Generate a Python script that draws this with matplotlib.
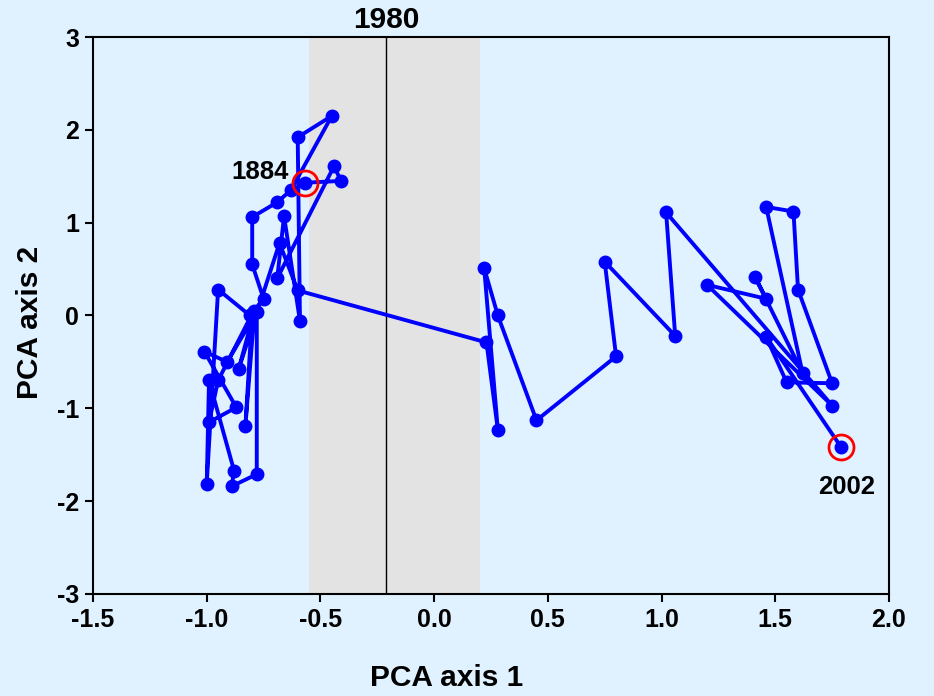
"""
PCA trajectory of the community, 1884 to 2002, with the 1980 shift marked.
"""

import matplotlib.pyplot as plt

plt.rcParams['font.family'] = ['Liberation Sans', 'DejaVu Sans']
plt.rcParams['font.weight'] = 'bold'
plt.rcParams['axes.unicode_minus'] = False

# sample scores on the first two PCA axes, in time order
pc1 = [-0.57, -0.41, -0.44, -0.69, -0.66, -0.59, -0.60, -0.45, -0.63, -0.69,
       -0.80, -0.80, -0.75, -0.81, -0.95, -1.00, -0.99, -0.88, -0.89, -0.78,
       -0.78, -0.91, -1.01, -0.87, -0.99, -0.95, -0.80, -0.83, -0.79, -0.86,
       -0.68, -0.60,
       0.23, 0.28, 0.22, 0.28, 0.45, 0.80, 0.75, 1.06, 1.02,
       1.75, 1.20, 1.46, 1.41, 1.62, 1.46, 1.58, 1.60, 1.75, 1.55, 1.46, 1.79]
pc2 = [1.43, 1.45, 1.61, 0.40, 1.07, -0.06, 1.92, 2.15, 1.35, 1.22,
       1.06, 0.55, 0.18, 0.00, 0.28, -1.81, -0.70, -1.67, -1.84, -1.71,
       0.04, -0.50, -0.39, -0.99, -1.15, -0.70, 0.02, -1.19, 0.05, -0.58,
       0.78, 0.27,
       -0.29, -1.23, 0.51, 0.00, -1.13, -0.44, 0.58, -0.22, 1.11,
       -0.97, 0.33, 0.18, 0.42, -0.62, 1.17, 1.12, 0.28, -0.73, -0.72, -0.23, -1.42]

first_year = '1884'
last_year = '2002'

shift_label = '1980'
shift_x = -0.21
shift_band = (-0.55, 0.20)

xticks = [-1.5, -1.0, -0.5, 0.0, 0.5, 1.0, 1.5, 2.0]
yticks = [-3, -2, -1, 0, 1, 2, 3]

bg = '#e0f2ff'

fig, ax = plt.subplots(figsize=(9.34, 6.96), dpi=100)
fig.patch.set_facecolor(bg)
ax.set_facecolor(bg)
fig.subplots_adjust(left=0.0996, right=0.9518, bottom=0.1466, top=0.9468)

ax.axvspan(shift_band[0], shift_band[1], color='#e3e3e3', lw=0, zorder=0)
ax.axvline(shift_x, color='black', lw=1, zorder=1)
ax.text(shift_x, 3.03, shift_label, ha='center', va='bottom', fontsize=21.5,
        fontweight='bold')

ax.plot(pc1, pc2, '-o', color='#0000ff', lw=2.8, ms=9, zorder=3)

# mark first and last sample
ax.plot([pc1[0], pc1[-1]], [pc2[0], pc2[-1]], 'o', ms=18, mfc='none',
        mec='#ff0000', mew=2, zorder=4)
ax.text(pc1[0] - 0.07, pc2[0] + 0.12, first_year, ha='right', va='center',
        fontsize=18.5, fontweight='bold')
ax.text(pc1[-1] + 0.025, pc2[-1] - 0.43, last_year, ha='center', va='center',
        fontsize=18.5, fontweight='bold')

ax.set_xlim(-1.5, 2.0)
ax.set_ylim(-3, 3)
ax.set_xticks(xticks)
ax.set_xticklabels(['%.1f' % t for t in xticks])
ax.set_yticks(yticks)
ax.tick_params(direction='out', length=6, width=1.5, labelsize=18, pad=4)
for label in ax.get_xticklabels() + ax.get_yticklabels():
    label.set_fontweight('bold')
for spine in ax.spines.values():
    spine.set_linewidth(1.5)

fig.text(447 / 934, 1 - 678 / 696, 'PCA axis 1', ha='center', va='center',
         fontsize=21.5, fontweight='bold')
fig.text(30 / 934, 1 - 322 / 696, 'PCA axis 2', ha='center', va='center',
         rotation=90, fontsize=21.5, fontweight='bold')

fig.savefig('out.png', dpi=100, facecolor=bg)
